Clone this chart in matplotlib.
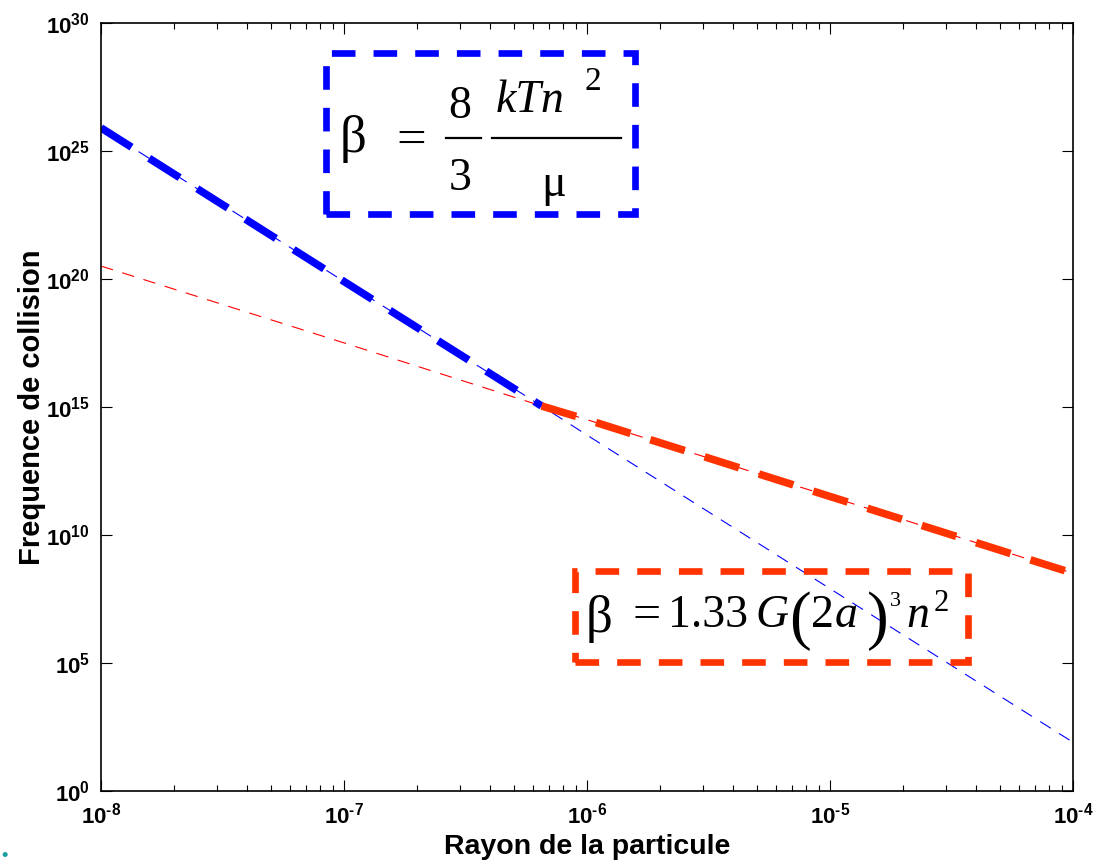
import numpy as np
import matplotlib.pyplot as plt
from matplotlib.patches import Rectangle
from matplotlib.lines import Line2D

plt.rcParams['font.family'] = 'Liberation Sans'
plt.rcParams['font.weight'] = 'bold'
plt.rcParams['mathtext.fontset'] = 'custom'
plt.rcParams['mathtext.rm'] = 'Liberation Sans:bold'
plt.rcParams['mathtext.bf'] = 'Liberation Sans:bold'
plt.rcParams['mathtext.it'] = 'Liberation Sans:bold'
plt.rcParams['lines.scale_dashes'] = False

# rayon de la particule (m) et frequences
rayon = [1e-8, 1e-7, 6.5e-7, 1e-6, 1e-5, 1e-4]
beta_brownien = [8e25, 8e19, 1.1e15, 8e13, 8e7, 8e1]
beta_turbulent = [3.2e20, 3.2e17, 1.1e15, 3.2e14, 3.2e11, 3.2e8]
i_croise = 2  # point de croisement

xticks = [1e-8, 1e-7, 1e-6, 1e-5, 1e-4]
xtick_labels = [u'$10^{\u20108}$', u'$10^{\u20107}$', u'$10^{\u20106}$',
                u'$10^{\u20105}$', u'$10^{\u20104}$']
yticks = [1e0, 1e5, 1e10, 1e15, 1e20, 1e25, 1e30]
ytick_labels = [r'$10^{0}$', r'$10^{5}$', r'$10^{10}$', r'$10^{15}$',
                r'$10^{20}$', r'$10^{25}$', r'$10^{30}$']

bleu = '#0000ff'
rouge = '#ff3300'
W, H = 1095, 865

fig = plt.figure(figsize=(10.95, 8.65), dpi=100)
ax = fig.add_axes([101/W, 1 - 791/H, (1073-101)/W, (791-23)/H])

# lignes fines sur tout le domaine
ax.plot(rayon, beta_brownien, color=bleu, lw=0.8, ls=(0, (9, 7)))
ax.plot(rayon, beta_turbulent, color='red', lw=0.8, ls=(0, (9, 7)))
# lignes epaisses : regime dominant
ax.plot(rayon[:i_croise + 1], beta_brownien[:i_croise + 1], color=bleu, lw=5.5,
        ls=(0, (26, 15)), dash_capstyle='butt')
ax.plot(rayon[i_croise:], beta_turbulent[i_croise:], color=rouge, lw=5.5,
        ls=(0, (26, 15)), dash_capstyle='butt')

ax.set_xscale('log')
ax.set_yscale('log')
ax.set_xlim(1e-8, 1e-4)
ax.set_ylim(1e0, 1e30)
ax.set_xticks(xticks)
ax.set_xticklabels(xtick_labels, fontsize=16)
ax.set_yticks(yticks)
ax.set_yticklabels(ytick_labels, fontsize=16)
ax.yaxis.set_minor_locator(plt.NullLocator())
ax.tick_params(which='both', direction='in', top=True, right=True, width=0.8)
ax.tick_params(which='major', length=8, pad=8)
ax.tick_params(which='minor', length=4)
for s in ax.spines.values():
    s.set_linewidth(1.2)

ax.set_xlabel('Rayon de la particule', fontsize=20.5, fontweight='bold', labelpad=4)
ax.set_ylabel('Frequence de collision', fontsize=21, fontweight='bold', labelpad=0)


# encadres des formules (coordonnees figure en pixels)
def cadre(x0, y0, x1, y1, couleur):
    r = Rectangle((x0/W, 1 - y1/H), (x1-x0)/W, (y1-y0)/H,
                  transform=fig.transFigure, fill=False, ec=couleur, lw=4.8,
                  ls=(0, (17, 13)), zorder=5)
    fig.add_artist(r)


def txt(x, y, s, size, style='normal', ha='left'):
    fig.text(x/W, 1 - y/H, s, fontsize=size, fontstyle=style, fontweight='normal',
             family='Liberation Serif', ha=ha, va='baseline')


def barre(x0, x1, y):
    fig.add_artist(Line2D([x0/W, x1/W], [1 - y/H, 1 - y/H], transform=fig.transFigure,
                          color='black', lw=1.6))


cadre(326, 53, 635, 214, bleu)
cadre(575, 571, 968, 662, rouge)

# beta = 8/3 kTn^2 / mu
txt(340, 152, u'\u03b2', 38)
txt(411, 155, '=', 38, ha='center')
txt(460, 118, '8', 33, ha='center')
barre(446, 481, 138)
txt(460, 190, '3', 33, ha='center')
txt(496, 112, 'kTn', 33, 'italic')
txt(584, 90, '2', 24)
barre(492, 621, 138)
txt(554, 196, u'\u03bc', 33, ha='center')

# beta = 1.33 G (2a)^3 n^2
txt(586, 632, u'\u03b2', 38)
txt(647, 628, '=', 36, ha='center')
txt(668, 627, '1.33', 33)
txt(755, 627, 'G', 33, 'italic')
txt(789, 637, '(', 47)
txt(811, 627, '2', 33)
txt(835, 627, 'a', 33, 'italic')
txt(867, 637, ')', 47)
txt(890, 606, '3', 16)
txt(906, 627, 'n', 33, 'italic')
txt(934, 611, '2', 22)

# petit point en bas a gauche
fig.text(1/W, 1 - 864/H, u'\u2022', color='#1aa0a0', fontsize=13, ha='left', va='bottom')

fig.savefig('out.png', dpi=100)
